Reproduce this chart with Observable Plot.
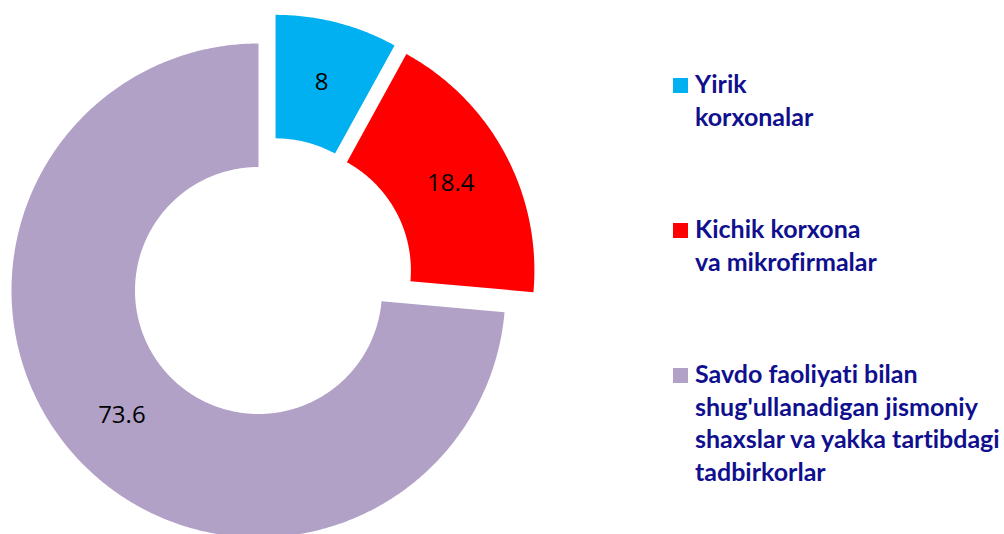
<!DOCTYPE html>
<html><head><meta charset="utf-8">
<script src="https://cdn.jsdelivr.net/npm/d3@7"></script>
<script src="https://cdn.jsdelivr.net/npm/@observablehq/plot@0.6"></script>
<style>
body{margin:0;background:#fff;}
#wrap{position:relative;width:1004px;height:534px;overflow:hidden;}
#chart{position:absolute;left:0;top:0;}
#legend{position:absolute;left:673px;top:0;font-family:Lato,"Open Sans",sans-serif;font-weight:700;font-size:25px;color:#10108f;font-variant-ligatures:none;font-feature-settings:"liga" 0,"dlig" 0,"clig" 0;}
.sw{position:absolute;left:0;width:15px;height:15px;}
.txt{position:absolute;left:22px;line-height:32.5px;white-space:nowrap;}
</style></head><body><div id="wrap"><div id="chart"></div><div id="legend"></div></div>
<script>
const categories = ["Yirik korxonalar", "Kichik korxona va mikrofirmalar", "Savdo faoliyati bilan shug'ullanadigan jismoniy shaxslar va yakka tartibdagi tadbirkorlar"];
const values = [8, 18.4, 73.6];
const valueLabels = ["8", "18.4", "73.6"];
const legendLines = [["Yirik", "korxonalar"], ["Kichik korxona", "va mikrofirmalar"], ["Savdo faoliyati bilan", "shug'ullanadigan jismoniy", "shaxslar va yakka tartibdagi", "tadbirkorlar"]];
const colors = ["#00b0f0", "#ff0000", "#b2a1c7"];

// style / layout (radius units)
const explode = [[0.069, 0.116], [0.117, 0.081], [0, 0]];
const hole = 0.5;

const total = d3.sum(values);
const slices = [];
const polys = [];
let acc = 0;
values.forEach((v, i) => {
  const a0 = acc / total * 2 * Math.PI;
  acc += v;
  const a1 = acc / total * 2 * Math.PI;
  const [dx, dy] = explode[i];
  const n = Math.max(8, Math.ceil((a1 - a0) / (Math.PI / 360)));
  for (let k = 0; k <= n; k++) {
    const a = a0 + (a1 - a0) * k / n;
    polys.push({cat: categories[i], x: dx + Math.sin(a), y: dy + Math.cos(a)});
  }
  for (let k = n; k >= 0; k--) {
    const a = a0 + (a1 - a0) * k / n;
    polys.push({cat: categories[i], x: dx + hole * Math.sin(a), y: dy + hole * Math.cos(a)});
  }
  const mid = (a0 + a1) / 2, rm = (1 + hole) / 2;
  slices.push({cat: categories[i], label: valueLabels[i], x: dx + rm * Math.sin(mid), y: dy + rm * Math.cos(mid)});
});

const chart = Plot.plot({
  width: 1004, height: 534,
  margin: 0,
  x: {domain: [-258 / 247, 746 / 247], axis: null},
  y: {domain: [-244 / 247, 290 / 247], axis: null},
  color: {domain: categories, range: colors},
  marks: [
    Plot.line(polys, {x: "x", y: "y", z: "cat", fill: "cat", stroke: "none", curve: "linear"}),
    Plot.text(slices, {x: "x", y: "y", text: "label", fill: "black", fontSize: 24, fontFamily: "'Open Sans', sans-serif"})
  ]
});
document.getElementById("chart").appendChild(chart);

const legend = document.getElementById("legend");
legendLines.forEach((lines, i) => {
  const base = 93 + 145 * i;
  const sw = document.createElement("div");
  sw.className = "sw";
  sw.style.top = (base - 15) + "px";
  sw.style.background = colors[i];
  legend.appendChild(sw);
  const t = document.createElement("div");
  t.className = "txt";
  t.style.top = (base - 26) + "px";
  t.innerHTML = lines.map(s => s.replace(/&/g, "&amp;")).join("<br>");
  legend.appendChild(t);
});
</script></body></html>
